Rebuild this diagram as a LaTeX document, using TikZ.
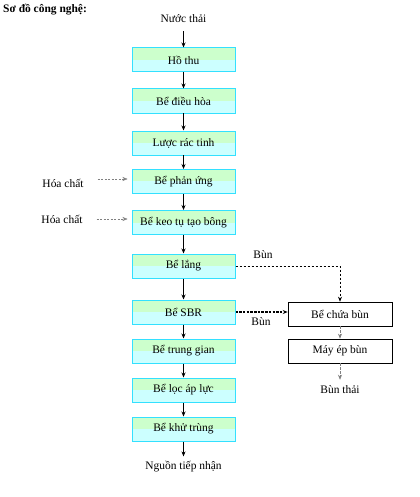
\documentclass[tikz,border=0pt]{standalone}
\usepackage{fontspec}
\setmainfont{Liberation Serif}
\usetikzlibrary{arrows.meta}
\definecolor{boxgreen}{HTML}{CCFFCC}
\definecolor{boxcyan}{HTML}{CCFFFF}
\definecolor{boxline}{HTML}{33E0FF}
\tikzset{
  x=1bp, y=-1bp,
  every node/.style={font=\fontsize{11.5}{13}\selectfont, inner sep=0pt},
  procbox/.style={draw=boxline, line width=1pt, minimum width=103bp, minimum height=24bp,
    path picture={
      \fill[boxcyan] (path picture bounding box.south west) rectangle (path picture bounding box.north east);
      \fill[boxgreen] (path picture bounding box.north west) rectangle (path picture bounding box.east);
    }},
  sludgebox/.style={draw=black, line width=0.6pt, fill=white, minimum width=104bp, minimum height=24bp},
  flow/.style={-{Stealth[length=5bp,width=4bp]}, line width=0.6pt},
  chem/.style={-{Stealth[length=5bp,width=4bp]}, draw=gray, dashed, dash pattern=on 2bp off 1.5bp, line width=0.4pt},
  sludge/.style={-{Stealth[length=5bp,width=4bp]}, dashed, dash pattern=on 2.5bp off 1.5bp, line width=0.6pt},
  sludgethick/.style={-{Stealth[length=5bp,width=4bp]}, dashed, dash pattern=on 2.5bp off 1.2bp, line width=1.1pt},
}
\begin{document}
\begin{tikzpicture}
\useasboundingbox (0,0) rectangle (419,497);
\node[anchor=west, font=\fontsize{11.5}{13}\selectfont\bfseries] (title) at (3,10) {Sơ đồ công nghệ:};
\node (in) at (183.5,19) {Nước thải};
\node[procbox] (b1) at (183.5,60) {Hồ thu};
\node[procbox] (b2) at (183.5,101) {Bể điều hòa};
\node[procbox] (b3) at (183.5,143) {Lược rác tinh};
\node[procbox] (b4) at (183.5,181.5) {Bể phản ứng};
\node[procbox] (b5) at (183.5,222.5) {Bể keo tụ tạo bông};
\node[procbox] (b6) at (183.5,266) {Bể lắng};
\node[procbox] (b7) at (183.5,312) {Bể SBR};
\node[procbox] (b8) at (183.5,351) {Bể trung gian};
\node[procbox] (b9) at (183.5,390) {Bể lọc áp lực};
\node[procbox] (b10) at (183.5,429) {Bể khử trùng};
\node (out) at (183.5,467) {Nguồn tiếp nhận};

\node (hc1) at (63,183) {Hóa chất};
\node (hc2) at (62,219) {Hóa chất};

\node[sludgebox] (s1) at (340,314) {Bể chứa bùn};
\node[sludgebox] (s2) at (340,351) {Máy ép bùn};
\node (s3) at (340,390) {Bùn thải};
\node (bun1) at (263,255) {Bùn};
\node (bun2) at (261,322) {Bùn};

\draw[flow] ([yshift=-8bp]in.south) -- (b1.north);
\foreach \a/\b in {b1/b2,b2/b3,b3/b4,b4/b5,b5/b6,b6/b7,b7/b8,b8/b9,b9/b10}
  \draw[flow] (\a.south) -- (\b.north);
\draw[flow] (b10.south) -- ([yshift=5bp]out.north);

\draw[chem, shorten <=14bp, shorten >=4bp] (hc1.east |- 0,179) -- (b4.west |- 0,179);
\draw[chem, shorten <=14bp, shorten >=4bp] (hc2.east) -- (b5.west |- hc2.east);

\draw[sludge] (b6.east) -| (s1.north);
\draw[sludgethick] (b7.east) -- (s1.west |- b7.east);
\draw[sludge, draw=gray] (s1.south) -- (s2.north);
\draw[sludge, draw=gray] (s2.south) -- ([yshift=6bp]s3.north);
\end{tikzpicture}
\end{document}
